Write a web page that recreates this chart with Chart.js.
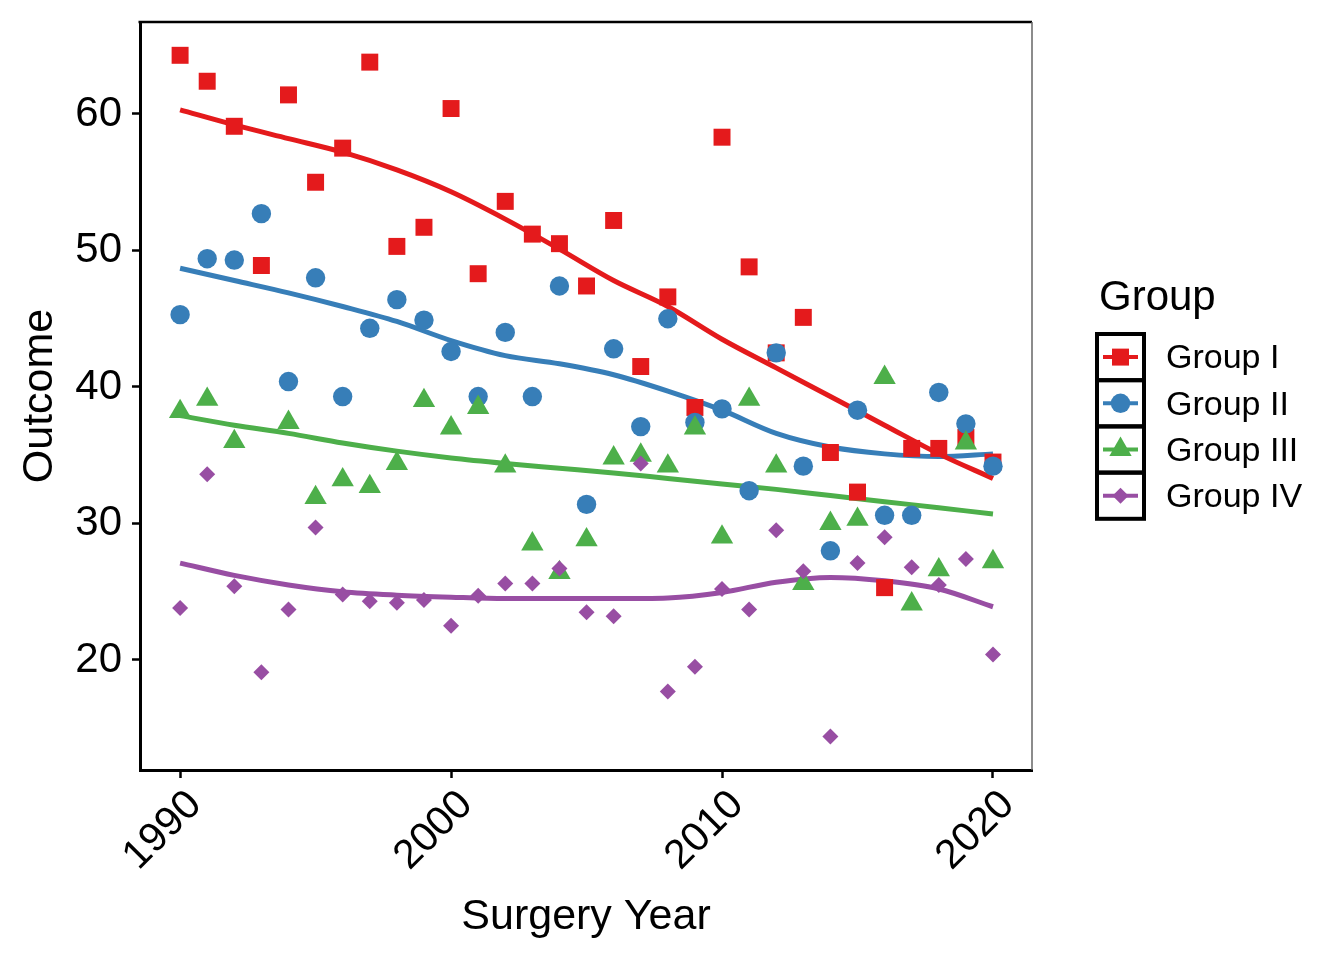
<!DOCTYPE html>
<html>
<head>
<meta charset="utf-8">
<title>Outcome by Surgery Year</title>
<script src="https://cdn.jsdelivr.net/npm/chart.js@4.4.1/dist/chart.umd.min.js"></script>
<style>
    html, body { margin: 0; padding: 0; background: #fff; }
    #wrap { width: 1344px; height: 960px; position: relative; }
</style>
</head>
<body>
<div id="wrap"><canvas id="outcome-chart"></canvas></div>
<script>
// surgery years (x)
const years = [1990, 1991, 1992, 1993, 1994, 1995, 1996, 1997, 1998, 1999,
               2000, 2001, 2002, 2003, 2004, 2005, 2006, 2007, 2008, 2009,
               2010, 2011, 2012, 2013, 2014, 2015, 2016, 2017, 2018, 2019, 2020];

// observed outcome per group, one value per year
const groupI   = [64.3, 62.4, 59.1, 48.9, 61.4, 55.0, 57.5, 63.8, 50.3, 51.7,
                  60.4, 48.3, 53.6, 51.2, 50.5, 47.4, 52.2, 41.5, 46.6, 38.5,
                  58.3, 48.8, 42.5, 45.1, 35.2, 32.3, 25.3, 35.5, 35.5, 36.3, 34.5];
const groupII  = [45.3, 49.4, 49.3, 52.7, 40.4, 48.0, 39.3, 44.3, 46.4, 44.9,
                  42.6, 39.3, 44.0, 39.3, 47.4, 31.4, 42.8, 37.1, 45.0, 37.4,
                  38.4, 32.4, 42.5, 34.2, 28.0, 38.3, 30.6, 30.6, 39.6, 37.3, 34.2];
const groupIII = [38.2, 39.1, 36.0, null, 37.4, 31.9, 33.2, 32.7, 34.4, 39.0,
                  37.0, 38.5, 34.2, 28.5, 26.4, 28.8, 34.8, 35.0, 34.2, 37.0,
                  29.0, 39.1, 34.2, 25.6, 30.0, 30.3, 40.7, 24.1, 26.6, 35.9, 27.2];
const groupIV  = [23.8, 33.6, 25.4, 19.1, 23.7, 29.7, 24.8, 24.3, 24.2, 24.4,
                  22.5, 24.7, 25.6, 25.6, 26.7, 23.5, 23.2, 34.4, 17.7, 19.5,
                  25.2, 23.7, 29.5, 26.5, 14.4, 27.1, 29.0, 26.8, 25.5, 27.4, 20.4];

// smoothed trend
const smoothYears = [1990, 1992, 1994, 1996, 1998, 2000, 2002, 2004,
                     2006, 2008, 2010, 2012, 2014, 2016, 2018, 2020];
const smoothI   = [60.3, 59.2, 58.2, 57.2, 55.9, 54.3, 52.3, 50.1, 47.8, 45.9, 43.5, 41.4, 39.3, 37.2, 35.1, 33.3];
const smoothII  = [48.7, 47.8, 46.9, 45.9, 44.8, 43.4, 42.3, 41.7, 40.9, 39.7, 38.3, 36.6, 35.6, 35.1, 34.9, 35.1];
const smoothIII = [37.9, 37.2, 36.6, 35.9, 35.3, 34.8, 34.4, 34.05, 33.7, 33.3, 32.9, 32.5, 32.05, 31.6, 31.15, 30.7];
const smoothIV  = [27.1, 26.2, 25.5, 25.0, 24.75, 24.6, 24.5, 24.5, 24.5, 24.55, 24.95, 25.7, 26.05, 25.8, 25.2, 23.9];

const xTicks = [1990, 2000, 2010, 2020];
const yTicks = [20, 30, 40, 50, 60];

const groupLabels = ['Group I', 'Group II', 'Group III', 'Group IV'];
const colors = ['#E41A1C', '#377EB8', '#4DAF4A', '#984EA3'];
const shapes = ['rect', 'circle', 'triangle', 'rectRot'];
const radii = [12, 9.7, 12.9, 8];

const FONT = '"Liberation Sans", Arial, Helvetica, sans-serif';

function toPoints(xs, ys) {
    return xs.map((x, i) => ({ x: x, y: ys[i] })).filter(p => p.y !== null);
}

function drawShape(ctx, shape, x, y, r) {
    ctx.beginPath();
    if (shape === 'rect') {
        const s = Math.SQRT1_2 * r;
        ctx.rect(x - s, y - s, 2 * s, 2 * s);
    } else if (shape === 'circle') {
        ctx.arc(x, y, r, 0, Math.PI * 2);
    } else if (shape === 'triangle') {
        ctx.moveTo(x, y - r);
        ctx.lineTo(x + Math.sin(Math.PI * 2 / 3) * r, y + r / 2);
        ctx.lineTo(x - Math.sin(Math.PI * 2 / 3) * r, y + r / 2);
        ctx.closePath();
    } else {
        ctx.moveTo(x - r, y);
        ctx.lineTo(x, y - r);
        ctx.lineTo(x + r, y);
        ctx.lineTo(x, y + r);
        ctx.closePath();
    }
    ctx.fill();
}

// top and right edges of the panel
const panelFrame = {
    id: 'panelFrame',
    afterDraw(chart) {
        const { ctx, chartArea: a } = chart;
        ctx.save();
        ctx.strokeStyle = '#000';
        ctx.lineWidth = 2.5;
        ctx.beginPath();
        ctx.moveTo(a.left - 1.5, a.top);
        ctx.lineTo(a.right, a.top);
        ctx.stroke();
        ctx.strokeStyle = '#666';
        ctx.lineWidth = 1.5;
        ctx.beginPath();
        ctx.moveTo(a.right, a.top);
        ctx.lineTo(a.right, a.bottom);
        ctx.stroke();
        ctx.restore();
    }
};

// ggplot-style boxed legend with line + marker keys
const groupLegend = {
    id: 'groupLegend',
    afterDraw(chart) {
        const ctx = chart.ctx;
        const left = 1097, top = 334, keyW = 47, keyH = 46.2;
        ctx.save();
        ctx.fillStyle = '#000';
        ctx.font = '42px ' + FONT;
        ctx.textBaseline = 'alphabetic';
        ctx.textAlign = 'left';
        ctx.fillText('Group', 1099, 310);

        groupLabels.forEach((label, i) => {
            const y0 = top + i * keyH;
            const cy = y0 + keyH / 2;
            const cx = left + keyW / 2;
            ctx.strokeStyle = colors[i];
            ctx.lineWidth = 4;
            ctx.beginPath();
            ctx.moveTo(left + 6, cy);
            ctx.lineTo(left + keyW - 6, cy);
            ctx.stroke();
            ctx.fillStyle = colors[i];
            drawShape(ctx, shapes[i], cx, cy, radii[i]);

            ctx.strokeStyle = '#000';
            ctx.lineWidth = 4;
            ctx.strokeRect(left, y0, keyW, keyH);

            ctx.fillStyle = '#000';
            ctx.font = '34px ' + FONT;
            ctx.textBaseline = 'middle';
            ctx.fillText(label, 1166, cy + 2);
        });
        ctx.restore();
    }
};

const seriesValues = [groupI, groupII, groupIII, groupIV];
const smoothValues = [smoothI, smoothII, smoothIII, smoothIV];

const datasets = [];
seriesValues.forEach((vals, i) => {
    datasets.push({
        label: groupLabels[i],
        data: toPoints(years, vals),
        pointStyle: shapes[i],
        pointRadius: radii[i],
        pointHoverRadius: radii[i],
        pointBackgroundColor: colors[i],
        pointBorderWidth: 0,
        showLine: false,
        order: 3 - i
    });
});
smoothValues.forEach((vals, i) => {
    datasets.push({
        label: groupLabels[i] + ' trend',
        data: toPoints(smoothYears, vals),
        showLine: true,
        borderColor: colors[i],
        borderWidth: 5,
        pointRadius: 0,
        cubicInterpolationMode: 'monotone',
        order: 10 + i
    });
});

const axisGrid = {
    display: true,
    drawOnChartArea: false,
    drawTicks: true,
    tickLength: 8,
    tickWidth: 2.5,
    tickColor: '#000'
};

new Chart(document.getElementById('outcome-chart'), {
    type: 'scatter',
    data: { datasets: datasets },
    options: {
        responsive: true,
        maintainAspectRatio: false,
        animation: false,
        layout: { padding: { left: 0, top: 22, right: 312, bottom: 0 } },
        plugins: {
            legend: { display: false },
            tooltip: { enabled: false }
        },
        scales: {
            x: {
                type: 'linear',
                min: 1988.52,
                max: 2021.44,
                afterBuildTicks: scale => { scale.ticks = xTicks.map(v => ({ value: v })); },
                afterFit: scale => {
                    scale.height = 190;
                    scale.paddingLeft = 0;
                    scale.paddingRight = 0;
                },
                grid: axisGrid,
                border: { display: true, color: '#000', width: 3 },
                ticks: {
                    autoSkip: false,
                    minRotation: 45,
                    maxRotation: 45,
                    padding: 3,
                    labelOffset: 15,
                    color: '#000',
                    font: { family: FONT, size: 41 },
                    callback: v => String(v)
                },
                title: {
                    display: true,
                    text: 'Surgery Year',
                    color: '#000',
                    font: { family: FONT, size: 43 },
                    padding: { top: 0, bottom: 17 }
                }
            },
            y: {
                type: 'linear',
                min: 11.94,
                max: 66.74,
                afterBuildTicks: scale => { scale.ticks = yTicks.map(v => ({ value: v })); },
                afterFit: scale => {
                    scale.width = 140;
                    scale.paddingTop = 0;
                    scale.paddingBottom = 0;
                },
                grid: axisGrid,
                border: { display: true, color: '#000', width: 3 },
                ticks: {
                    padding: 10,
                    color: '#000',
                    font: { family: FONT, size: 42 }
                },
                title: {
                    display: true,
                    text: 'Outcome',
                    color: '#000',
                    font: { family: FONT, size: 43 },
                    padding: { top: 14, bottom: 0 }
                }
            }
        }
    },
    plugins: [panelFrame, groupLegend]
});
</script>
</body>
</html>
